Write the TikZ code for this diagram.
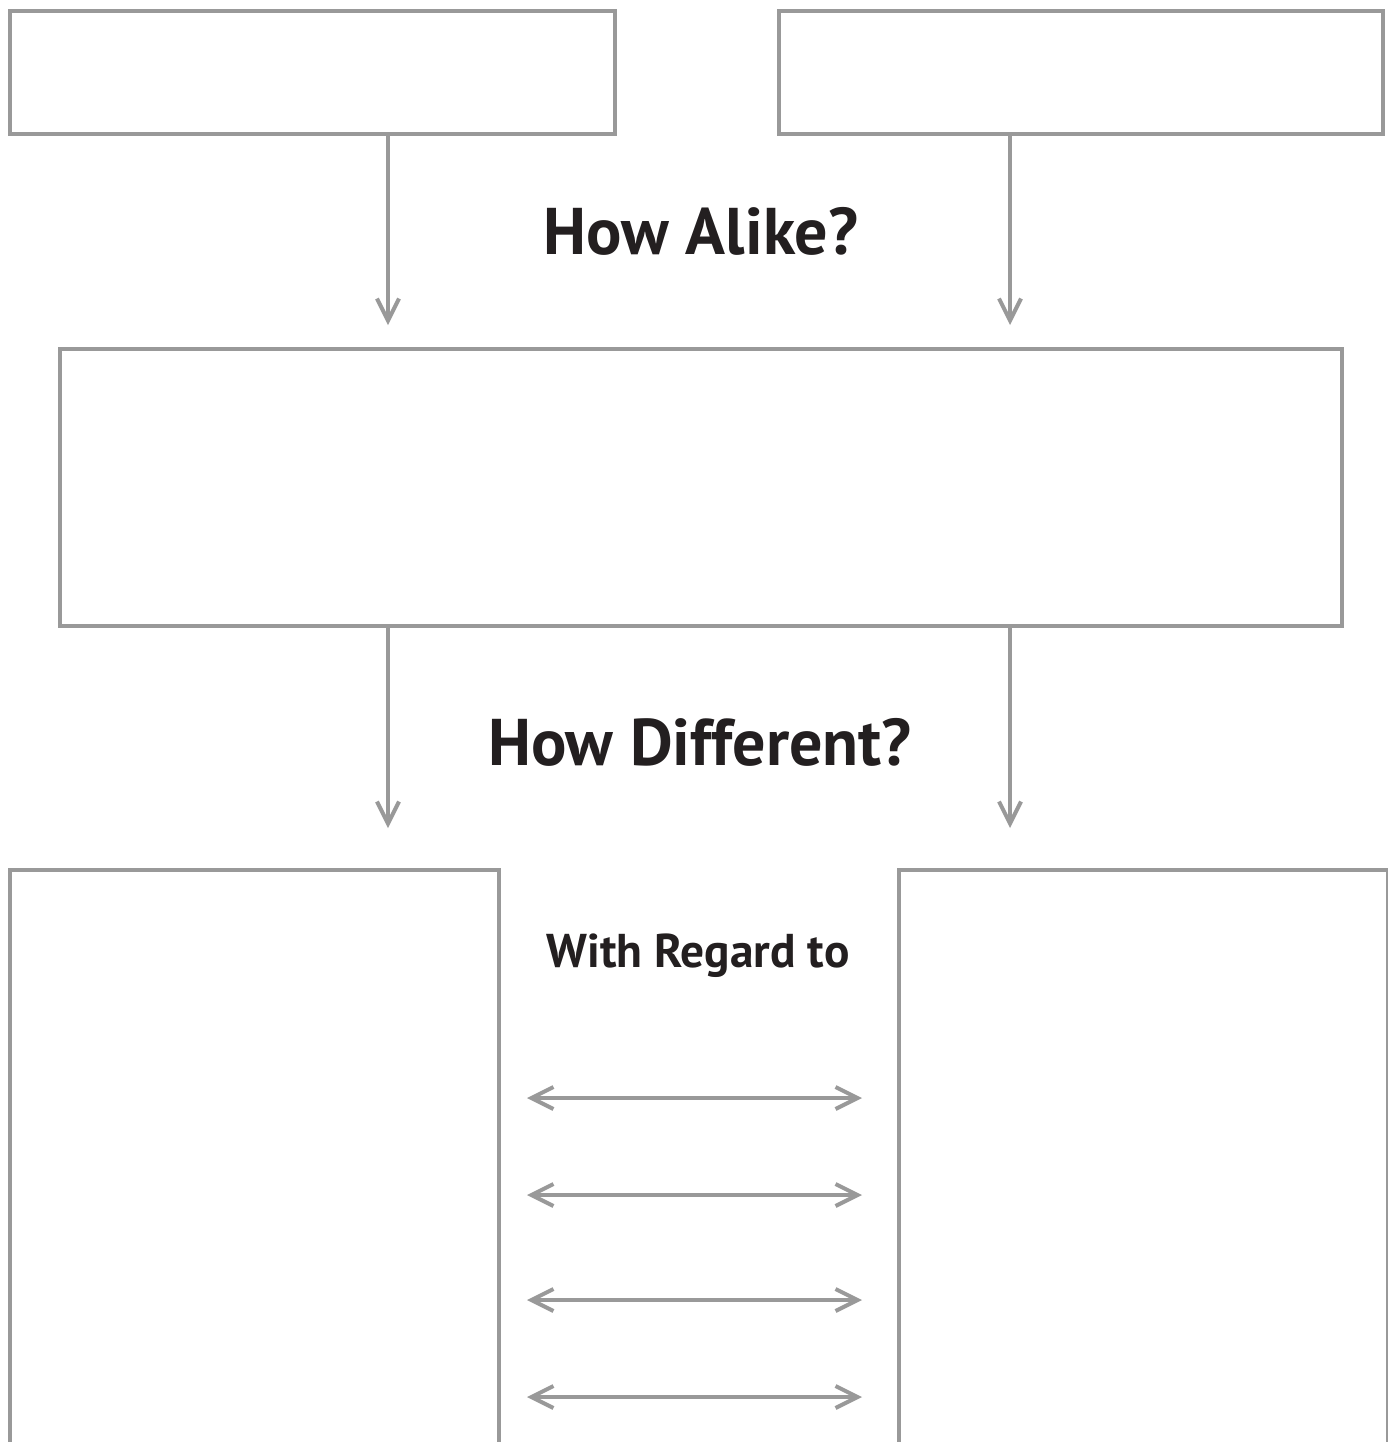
\documentclass[tikz,border=0pt]{standalone}
\usepackage{fontspec}
\setmainfont{PT Sans}
\usetikzlibrary{arrows.meta}
\definecolor{linegray}{HTML}{999999}
\definecolor{textdark}{HTML}{231F20}
\begin{document}
\begin{tikzpicture}[x=0.5pt,y=-0.5pt,
  box/.style={draw=linegray, line width=2pt, rectangle, inner sep=0pt, anchor=north west},
  tip/.style={Straight Barb[length=11pt,width=11pt,line width=2pt]},
  conn/.style={draw=linegray, line width=1.75pt, -{Straight Barb[length=11pt,width=11pt,line width=2pt]}},
  dconn/.style={draw=linegray, line width=1.75pt, {Straight Barb[length=11pt,width=11pt,line width=2pt]}-{Straight Barb[length=11pt,width=11pt,line width=2pt]}},
  heading/.style={text=textdark, font=\bfseries\fontsize{33}{40}\selectfont, anchor=base, inner sep=0pt},
  subhead/.style={text=textdark, font=\bfseries\fontsize{23.7}{28}\selectfont, anchor=base, inner sep=0pt}]
\useasboundingbox (0,0) rectangle (1388,1442);
\clip (0,0) rectangle (1388,1442);
\node[box, minimum width=302.5pt, minimum height=61.5pt] (tl) at (8,9) {};
\node[box, minimum width=302pt, minimum height=61.5pt] (tr) at (777,9) {};
\node[box, minimum width=641pt, minimum height=138.5pt] (mid) at (58,347) {};
\node[box, minimum width=244.5pt, minimum height=320pt] (bl) at (8,868) {};
\node[box, minimum width=244.5pt, minimum height=320pt] (br) at (897,868) {};
\coordinate (a1) at (388,325);
\coordinate (a2) at (1010,325);
\coordinate (b1) at (388,828);
\coordinate (b2) at (1010,828);
\draw[conn] (tl.south -| a1) -- (a1);
\draw[conn] (tr.south -| a2) -- (a2);
\draw[conn] (mid.south -| b1) -- (b1);
\draw[conn] (mid.south -| b2) -- (b2);
\node[heading] (alike) at (701,254) {How Alike?};
\node[heading] (diff) at (700,765) {How Different?};
\node[subhead] (regard) at (698,967) {With Regard to};
\foreach \i/\y in {1/1098,2/1195,3/1300,4/1397}{
  \coordinate (l\i) at (527,\y);
  \coordinate (r\i) at (862,\y);
  \draw[dconn] (l\i) -- (r\i);
}
\end{tikzpicture}
\end{document}
